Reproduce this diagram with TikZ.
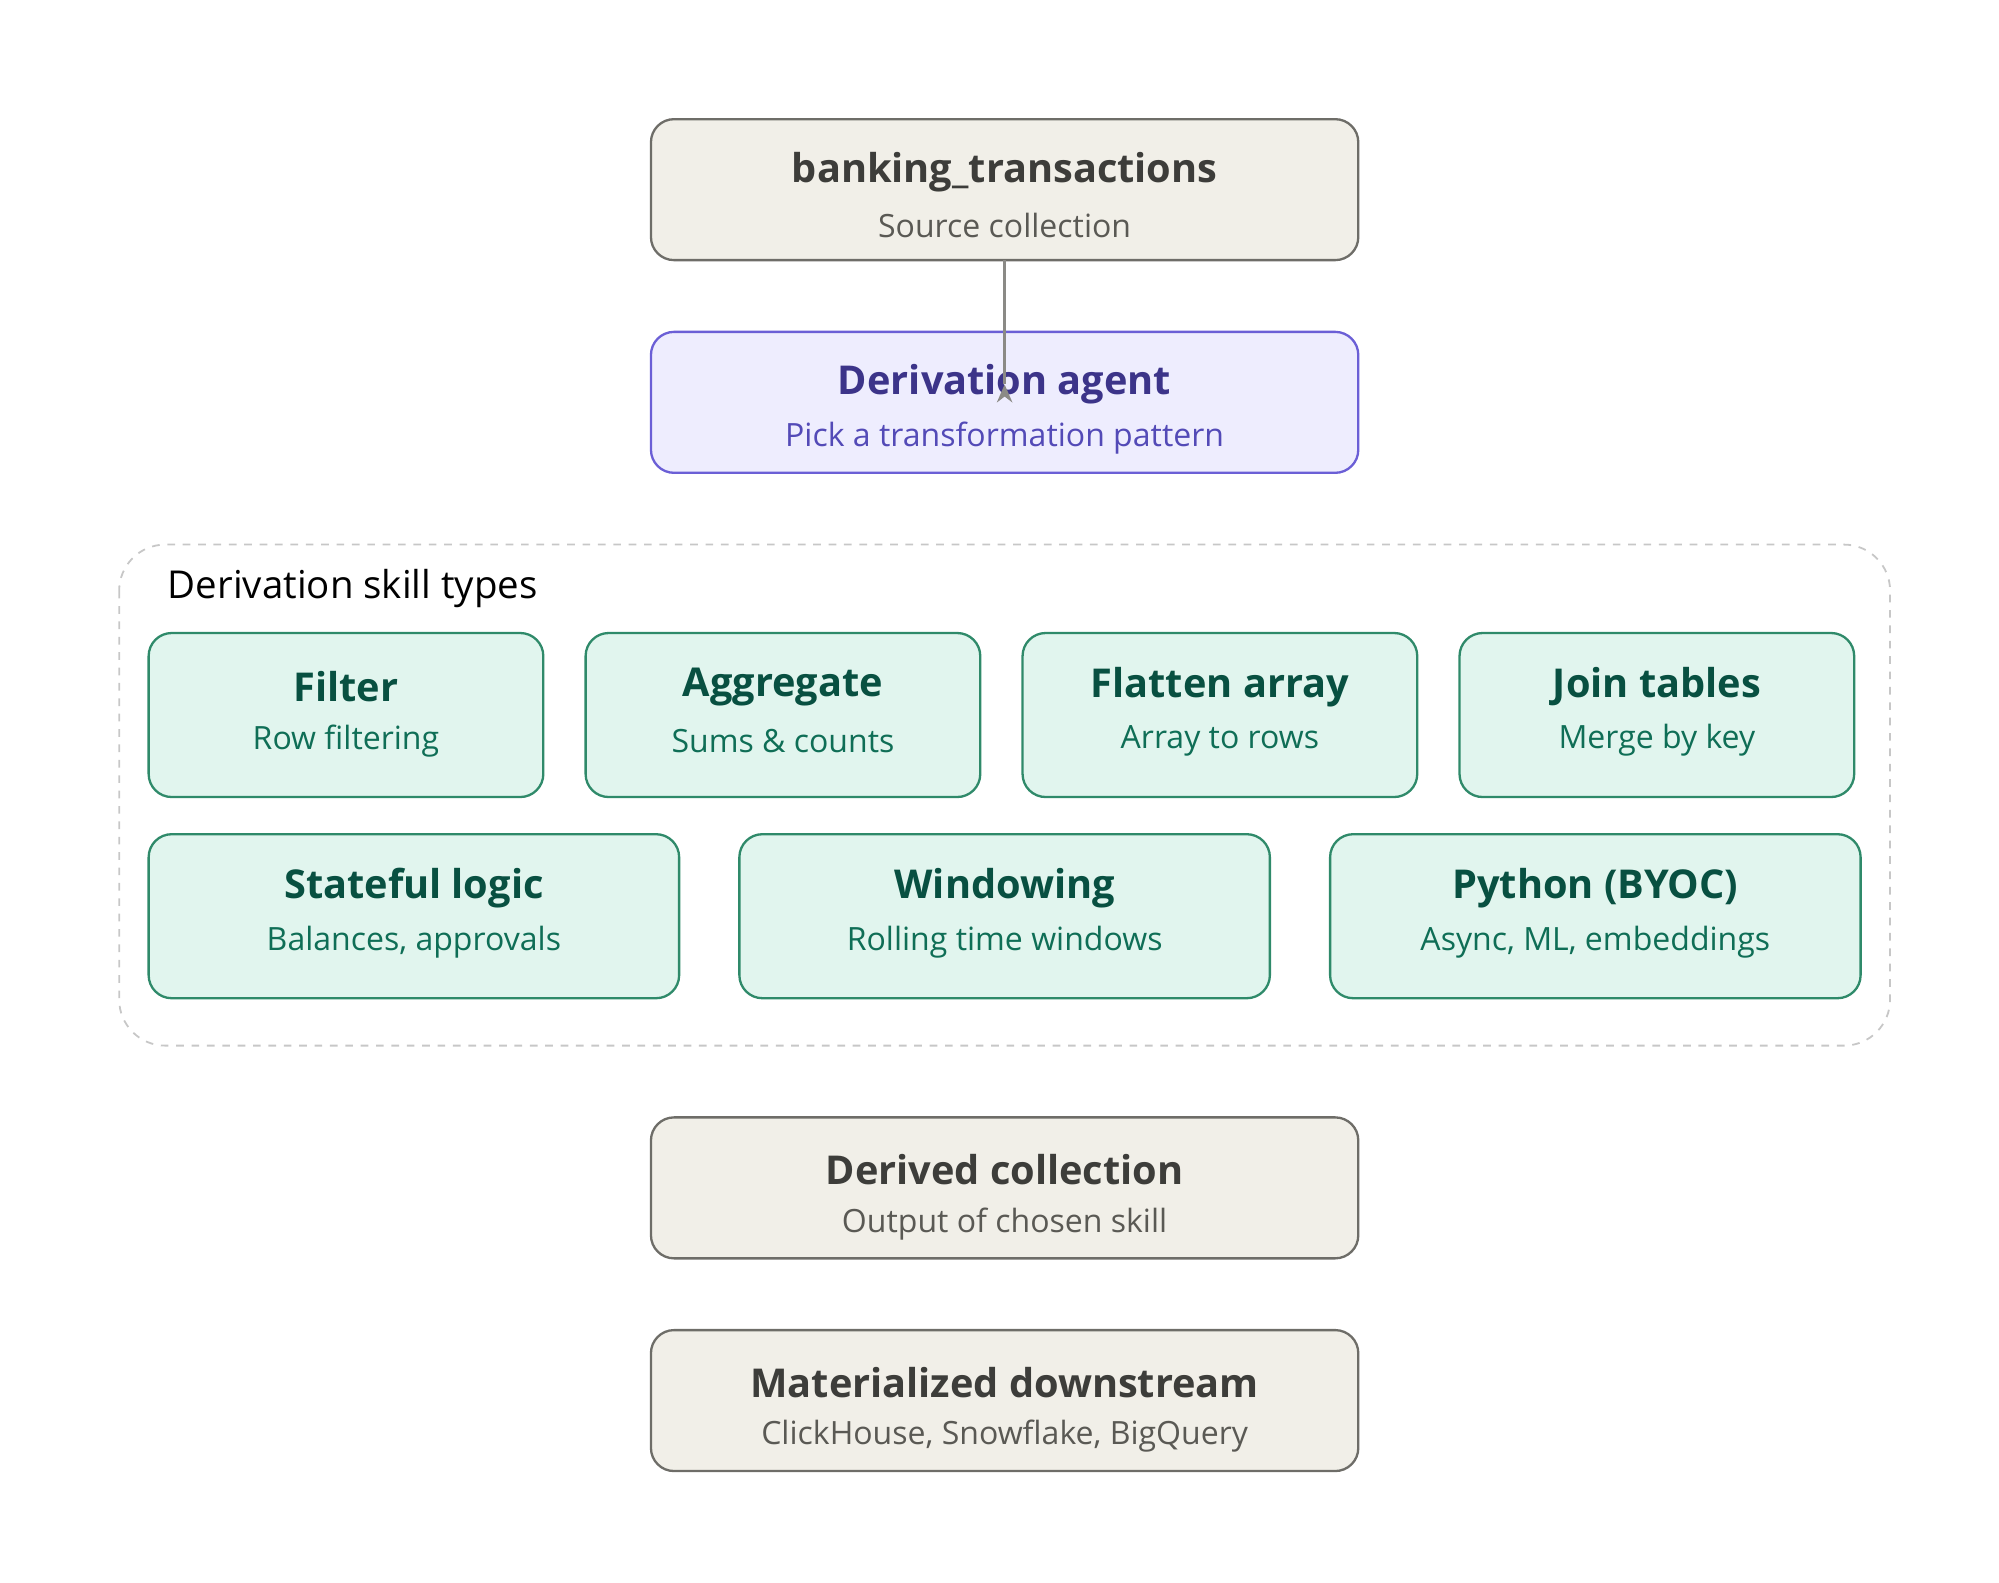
\documentclass[tikz,border=0pt]{standalone}
\usepackage{fontspec}
\setmainfont{Open Sans}
\usetikzlibrary{arrows.meta}
\definecolor{bfill}{HTML}{F1EFE8}\definecolor{bdraw}{HTML}{6E6D68}
\definecolor{btxt}{HTML}{3D3D3A}\definecolor{bsub}{HTML}{5A5954}
\definecolor{pfill}{HTML}{EEEDFE}\definecolor{pdraw}{HTML}{6B5FD6}
\definecolor{ptxt}{HTML}{3C3489}\definecolor{psub}{HTML}{534AB7}
\definecolor{gfill}{HTML}{E1F5EE}\definecolor{gdraw}{HTML}{2F8A6A}
\definecolor{gtxt}{HTML}{085041}\definecolor{gsub}{HTML}{0F6E56}
\begin{document}
\begin{tikzpicture}[x=0.5pt,y=-0.5pt,
 box/.style={draw,line width=0.9pt,rounded corners=9pt},
 beige/.style={box,fill=bfill,draw=bdraw},
 purple/.style={box,fill=pfill,draw=pdraw},
 green/.style={box,fill=gfill,draw=gdraw},
 ttl/.style={font=\fontsize{15.5}{18}\selectfont\bfseries},
 sub/.style={font=\fontsize{12.5}{15}\selectfont},
 arr/.style={-{Stealth[length=7pt,width=6pt]},line width=1.1pt,draw=bdraw!80}]
\useasboundingbox (0,0) rectangle (1560,1235);
\newcommand\bx[8]{% name style x1 y1 x2 y2 title sub
 \draw[#2] (#3,#4) rectangle (#5,#6);
 \coordinate (#1t) at ({(#3+#5)/2},#4);
 \coordinate (#1b) at ({(#3+#5)/2},#6);
}
% dashed container
\draw[dashed,draw=black!22,line width=0.7pt,rounded corners=18pt] (93,425) rectangle (1475,816);
\coordinate (ct) at (784,425); \coordinate (cb) at (784,816);
\node[anchor=west,font=\fontsize{15}{18}\selectfont] (lab) at (124,459) {Derivation skill types};
% beige / purple boxes
\bx{a}{beige}{508}{93}{1060}{203}{}{}
\node[ttl,text=btxt] (at) at (784,134) {banking\_transactions};
\node[sub,text=bsub] (as) at (784,176) {Source collection};
\bx{p}{purple}{508}{259}{1060}{369}{}{}
\node[ttl,text=ptxt] (pt) at (784,300) {Derivation agent};
\node[sub,text=psub] (ps) at (784,342) {Pick a transformation pattern};
\bx{d}{beige}{508}{872}{1060}{982}{}{}
\node[ttl,text=btxt] (dt) at (784,913) {Derived collection};
\node[sub,text=bsub] (ds) at (784,955) {Output of chosen skill};
\bx{m}{beige}{508}{1038}{1060}{1148}{}{}
\node[ttl,text=btxt] (mt) at (784,1079) {Materialized downstream};
\node[sub,text=bsub] (ms) at (784,1121) {ClickHouse, Snowflake, BigQuery};
% green boxes
\foreach \n/\xa/\xb/\ya/\yb/\t/\s in {
 g1/116/424/494/622/Filter/Row filtering,
 g2/457/765/494/622/Aggregate/Sums \& counts,
 g3/798/1106/494/622/Flatten array/Array to rows,
 g4/1139/1447/494/622/Join tables/Merge by key,
 g5/116/530/651/779/Stateful logic/{Balances, approvals},
 g6/577/991/651/779/Windowing/Rolling time windows,
 g7/1038/1452/651/779/Python (BYOC)/{Async, ML, embeddings}}{
 \draw[green] (\xa,\ya) rectangle (\xb,\yb);
 \node[ttl,text=gtxt] (\n t) at ({(\xa+\xb)/2},\ya+42) {\t};
 \node[sub,text=gsub] (\n s) at ({(\xa+\xb)/2},\ya+84) {\s};
}
\draw[arr] (ab) -- (pt |- pt) ++(0,0);
\end{tikzpicture}
\end{document}
